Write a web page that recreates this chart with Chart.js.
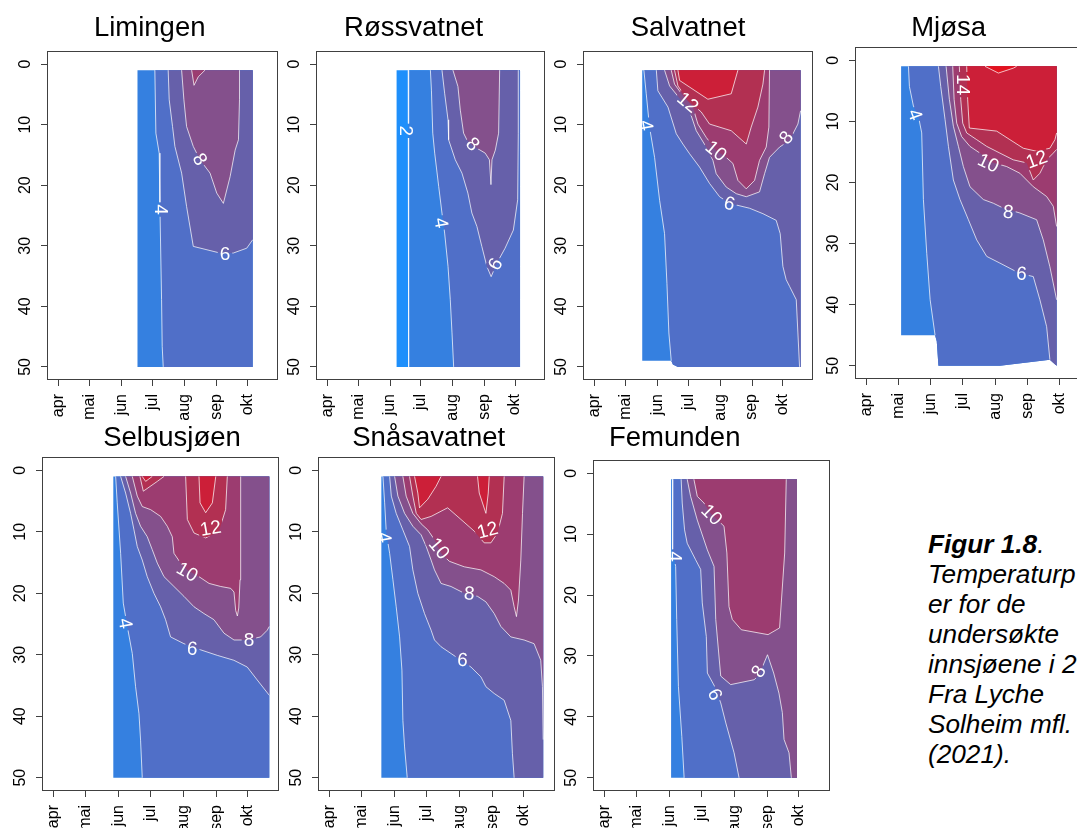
<!DOCTYPE html>
<html>
<head>
<meta charset="utf-8">
<script src="https://cdn.jsdelivr.net/npm/chart.js@4.4.1/dist/chart.umd.min.js"></script>
<style>
  html, body { margin: 0; padding: 0; background: #fff; width: 1077px; height: 828px; overflow: hidden; position: relative; font-family: "Liberation Sans", Arial, sans-serif; }
  canvas { position: absolute; }
  #caption { position: absolute; left: 928px; top: 529px; font-size: 26.2px; line-height: 30px; font-style: italic; white-space: nowrap; color: #000; }
</style>
</head>
<body>
<div id="caption"><b>Figur 1.8</b>.<br>Temperaturp<br>er for de<br>undersøkte<br>innsjøene i 2<br>Fra Lyche<br>Solheim mfl.<br>(2021).</div>
<script>
// x = day of year, y = depth (m)
const monthDays = [91, 121, 152, 182, 213, 244, 274];
const monthNames = ['apr', 'mai', 'jun', 'jul', 'aug', 'sep', 'okt'];
const depthTicks = [0, 10, 20, 30, 40, 50];
// one colour per 2-degree band: <2, 2-4, 4-6, ..., 16-18
const bandColors = ['#1e8ffb', '#3580e0', '#506fc8', '#6660aa', '#84508c', '#9c3c70', '#b23052', '#cc1f38', '#e3121f'];

// Limingen
const limingenArea = [[167.3,1],[278.8,1],[278.8,50],[167.3,50]];
const limingenOver4 = [[184.1,1],[185.1,11.4],[188.3,14.7],[189,23.5],[190.6,38.9],[191.2,46.6],[192.2,50],[278.8,50],[278.8,1]];
const limingenOver6 = [[197,1],[198,5.9],[201.2,10.3],[203.5,13.6],[210,18],[214.8,23.5],[221.3,30.1],[247.2,31.2],[260,31.2],[273,30.4],[278.8,29],[278.8,1]];
const limingenOver8 = [[210,1],[212.2,5.9],[214.8,10.3],[221.3,13.6],[227.8,15.8],[237.5,18],[244,21.3],[250.4,23],[256.9,18.6],[261.8,14.2],[265,12.5],[266,5.9],[266,1]];
const limingenOver10 = [[219.7,1],[222,3.5],[226.1,2.1],[232.6,1]];
const limingenLabels = [[190.6,24,'4',90],[227.8,15.7,'8',60],[252,31.3,'6',0]];

// Røssvatnet
const rossArea = [[158.4,1],[278.9,1],[278.9,50],[158.4,50]];
const rossOver2 = [[169.7,1],[169.9,20],[170.4,50],[278.9,50],[278.9,1]];
const rossOver4 = [[191.4,1],[192.4,4.3],[193.7,11.4],[195.6,14.7],[199.5,20.2],[202.7,24.6],[205.3,27.9],[208.6,33.4],[210.8,38.9],[212.5,44.4],[214.1,50],[278.9,50],[278.9,1]];
const rossOver6 = [[202.7,1],[205.3,4.8],[208.6,9.2],[209.2,12.5],[215.7,15.8],[222.2,18],[228,21.3],[231.9,24.6],[236.8,26.8],[241.6,30.1],[246.5,33.4],[250.7,35.1],[256.2,32.9],[264.3,30.4],[272.4,27.4],[276.6,22.4],[277.2,11.4],[277.2,1]];
const rossOver8 = [[213.4,1],[218.3,3.7],[220.6,7.6],[223.8,11.4],[227,12.5],[233,13.5],[244.9,14.7],[249,15.8],[250.5,19.9],[251.5,15.8],[254.8,14.2],[258,11.4],[259,1]];
const rossLabels = [[168.1,11,'2',90],[202.1,26.2,'4',80],[232.9,13.2,'8',45],[254.6,33,'6',-60]];

// Salvatnet
const salvArea = [[137.3,1],[291.2,1],[291.2,50],[172,50],[167.1,49.6],[165.5,49],[137.3,49]];
const salvOver4 = [[138.9,1],[141.2,4.9],[144.4,10.4],[149.3,15.4],[154.2,22.5],[159,28],[161.3,36.2],[163.2,44.4],[165.5,49],[167.1,49.6],[172,50],[291.2,50],[291.2,1]];
const salvOver6 = [[151,1],[152.5,4.4],[162.3,7.1],[170.4,11.5],[176.8,13.2],[183.3,14.8],[193,17],[202.7,19.7],[212.5,21.9],[222.2,23],[241.6,23.8],[254.6,24.7],[267.5,25.8],[271.4,28],[274,33.4],[277.2,35.6],[280.5,36.7],[287,38.9],[288.6,44.4],[290.2,50],[291.2,50],[291.2,1]];
const salvOver8 = [[159,1],[163.9,3.6],[175.2,6],[183.3,7.7],[189.8,11],[199.5,13.7],[206,15.9],[209.2,18.1],[218.9,20.3],[228.7,21.4],[238.4,21.9],[251.3,21.1],[256.2,18.1],[261,15.4],[270.8,13.7],[280.5,12.6],[288.6,9.9],[291.2,7.7],[291.2,1]];
const salvOver10 = [[165.5,1],[168.7,3.3],[176.8,5.2],[186.5,7.1],[191.4,9.9],[199.5,12.1],[209.2,14.3],[218.9,15.4],[225.4,16.4],[230.3,19.2],[238.4,20.6],[246.5,19.2],[251.3,15.9],[257.8,13.7],[260.4,10.4],[261,1]];
const salvOver12 = [[168.7,1],[172,3.6],[181.7,6],[194.6,7.9],[202.7,9.9],[223.8,11],[238.4,13.2],[243.2,10.4],[249.7,7.1],[254.6,3.3],[256.2,1]];
const salvOver14 = [[172,1],[173.6,2.7],[201.1,5.8],[223.8,4.9],[230.3,1]];
const salvLabels = [[141.2,10.1,'4',80],[181.7,6.3,'12',40],[209.2,14.3,'10',40],[277.2,12.1,'8',-50],[222.2,23,'6',15]];

// Mjøsa
const mjosaArea = [[123.6,1],[271.5,1],[271.5,50],[265.1,49],[217.6,50],[159.1,50],[157.5,46],[155.9,45],[123.6,45]];
const mjosaOver4 = [[130.6,1],[131.5,4.3],[135.3,7.5],[140.1,9.2],[143.2,11.9],[144.8,22.8],[148,31.6],[151.2,39.2],[155.9,45],[157.5,46],[159.1,50],[217.6,50],[265.1,49],[271.5,50],[271.5,1]];
const mjosaOver6 = [[159.1,1],[161.3,4.3],[165.4,9.7],[168.6,14.1],[173.3,19.6],[179.6,22.8],[187.6,26.1],[195.5,29.4],[205,32.1],[217.6,33.2],[236.6,34.9],[249.3,35.4],[255.6,39.2],[262,43.6],[265.1,49],[271.5,50],[271.5,1]];
const mjosaOver8 = [[166.4,1],[169.5,6.4],[173.3,10.8],[178.1,14.1],[182.8,17.4],[189.1,20.7],[201.8,22.8],[211.3,23.4],[220.8,24.2],[236.6,25],[252.5,26.1],[258.8,29.4],[265.1,33.8],[271.5,39.2],[271.5,1]];
const mjosaOver10 = [[172.7,1],[174,6.4],[176.5,10.3],[181.2,12.5],[189.1,14.1],[198.6,15.2],[208.1,16.6],[224,17.4],[236.6,18.5],[249.3,20.7],[262,22.3],[268.3,23.9],[271.5,27.2],[271.5,1]];
const mjosaOver12 = [[179,1],[180.3,6.4],[182.2,10.3],[186,11.9],[195.5,13],[205,14.1],[217.6,15.2],[230.3,16.3],[243,16.8],[249.3,19.6],[255.6,18.5],[262,16.3],[268.3,15.2],[271.5,14.6],[271.5,1]];
const mjosaOver14 = [[186,1],[186.9,6.4],[188.5,11.1],[214.5,11.6],[227.1,13],[239.8,14.4],[252.5,14.9],[265.1,14.4],[269.9,13],[271.5,11.9],[271.5,1]];
const mjosaOver16 = [[203.4,1],[216.1,2.1],[230.3,1.3],[233.5,1]];
const mjosaLabels = [[136.9,8.9,'4',70],[182.8,4,'14',90],[206.6,16.8,'10',25],[252.5,16.2,'12',-20],[225.6,24.8,'8',5],[238.2,34.9,'6',5]];

// Selbusjøen
const selbuArea = [[147,1],[294.1,1],[294.1,50],[147,50]];
const selbuOver4 = [[149.2,1],[150.7,5.3],[153.9,13.5],[156.4,21.6],[160.2,25.4],[164.9,29.8],[168,35.2],[171.2,39.6],[172.7,43.9],[174.3,50],[294.1,50],[294.1,1]];
const selbuOver6 = [[153.9,1],[158.6,3.7],[163.3,7],[166.5,9.7],[169.6,12.4],[174.3,14.6],[179,17.3],[185.3,20],[191.6,22.2],[196.3,24.3],[201,27.1],[213.6,28.2],[229.3,29.2],[245,30.1],[260.7,30.9],[273.3,32],[282.7,34.1],[294.1,36.6],[294.1,1]];
const selbuOver8 = [[158.6,1],[163.3,3.7],[168,7],[172.7,9.1],[179,10.8],[183.7,12.9],[188.5,15.1],[194.8,17.3],[204.2,18.9],[213.6,20.5],[223.1,22.2],[232.5,23.3],[241.9,24.3],[251.4,26.5],[260.8,27.6],[273.3,27.6],[285.9,27.1],[292.2,26],[294.1,25.4],[294.1,1]];
const selbuOver10 = [[164.9,1],[169.6,4.2],[174.3,5.9],[182.2,6.4],[191.6,7.5],[197.9,9.1],[202.6,10.8],[204.2,13.5],[210.5,15.1],[216.8,16.2],[227.8,17.3],[237.3,18.4],[248.3,18.9],[257.7,19.2],[260.8,19.8],[262.4,22.8],[264,23.7],[265.3,22.4],[266.5,17.8],[267.1,8],[267.1,1]];
const selbuOver12a = [[172.1,1],[175.3,3.4],[188.5,1.8],[194.8,1]];
const selbuOver12b = [[215.2,1],[216.8,8],[223.1,10.2],[234.1,11],[246.6,9.9],[252.9,6.4],[254.5,1]];
const selbuOver14a = [[174.3,1],[177.5,1.8],[183.7,1]];
const selbuOver14b = [[227.8,1],[228.8,5.3],[234.1,6.9],[240.4,5.3],[243.6,1]];
const selbuLabels = [[158.6,24.9,'4',80],[238.8,9.4,'12',-10],[216.8,16.5,'10',30],[221.5,29,'6',5],[274.9,27.6,'8',0]];

// Snåsavatnet
const snasaArea = [[139.5,1],[292.1,1],[292.1,50],[139.5,50]];
const snasaOver4 = [[141,1],[142.6,5.3],[144.2,10.2],[147.3,13.5],[150.4,17.8],[153.5,22.2],[156.7,27.1],[158.9,32.5],[159.8,40.7],[161.4,45],[163.9,50],[292.1,50],[292.1,1]];
const snasaOver6 = [[147.3,1],[148.9,4.2],[153.5,7],[159.8,9.7],[166.1,12.4],[169.2,16.2],[173.9,20],[180.2,23.3],[186.4,26],[189.6,27.6],[195.8,28.7],[205.2,29.8],[214.6,30.9],[224,32],[233.4,33.6],[238.1,35.2],[245.9,36.3],[255.3,37.4],[261.6,40.7],[263.1,46.1],[264.7,50],[292.1,50],[292.1,1]];
const snasaOver8 = [[152,1],[155.1,4.2],[161.4,7],[169.2,9.1],[177,10.5],[181.8,12.4],[186.4,14.6],[189.6,16.2],[195.8,18.4],[205.2,18.9],[217.7,20],[230.2,20.5],[238.1,21.4],[245.9,23.3],[252.2,25.4],[261.6,27.1],[274.1,27.6],[283.5,28.2],[289.8,30.9],[291.4,35.2],[292.1,43.8],[292.1,1]];
const snasaOver10 = [[159.8,1],[162.9,4.2],[169.2,7],[177,8.7],[183.3,9.7],[189.6,11.3],[195.8,13.5],[203.6,14.8],[217.7,15.7],[233.4,16.2],[245.9,17.3],[255.3,18.4],[261.6,19.5],[264.7,22.2],[266.9,23.8],[268.8,21.1],[271,14.6],[272.6,7],[274.1,1]];
const snasaOver12 = [[166.1,1],[169.2,4.2],[172.4,7],[177,8],[186.4,7.5],[202,6.1],[214.6,8],[227.1,9.9],[236.5,11.8],[242.8,11.8],[249,10.2],[253.7,7],[255.3,1]];
const snasaOver14a = [[170.8,1],[173.9,3.7],[175.5,6.1],[183.3,4.7],[191.1,2.6],[195.8,1]];
const snasaOver14b = [[230.2,1],[231.8,3.7],[238.1,7],[240.3,3.7],[241.2,1]];
const snasaLabels = [[142.6,10.9,'4',80],[239.6,9.7,'12',-15],[194.2,12.7,'10',50],[222.4,20,'8',5],[216.1,30.8,'6',5]];

// Femunden
const femArea = [[153.4,1],[272.1,1],[272.1,50],[153.4,50]];
const femOver4 = [[155,1],[154.7,7.7],[155,12.6],[157.7,15.3],[158.7,24],[160.3,35],[163.5,43.2],[165.7,50],[272.1,50],[272.1,1]];
const femOver6 = [[162.9,1],[163.9,4.9],[166.1,9.3],[168.6,11.5],[176.5,14.2],[181.3,15.8],[182.8,21.3],[186.6,26.8],[187.6,32.8],[194.5,35],[200.2,37.7],[205,41],[212.8,45.9],[217.5,50],[272.1,50],[272.1,1]];
const femOver8 = [[168.6,1],[171.8,3.8],[178.1,7.7],[187.6,12.6],[193.9,15.3],[195.5,24],[200.2,33.3],[209.6,34.7],[231.7,33.9],[236.4,33.1],[244.3,29.8],[250.1,32.8],[255.1,36.1],[258.3,39.3],[259.9,43.7],[264.6,45.9],[266.8,50],[272.1,50],[272.1,1]];
const femOver10 = [[174.9,1],[178.1,3.8],[184.4,4.9],[190.7,6.6],[203.3,8.7],[206,13.1],[208,21.9],[211.1,24],[219.6,25.7],[244.8,26.5],[255.7,25.4],[257.3,21.3],[260.5,13.1],[262,1]];
const femLabels = [[157.2,13.7,'4',90],[191.8,6.8,'10',45],[235.9,32.5,'8',-60],[194.9,36.3,'6',65]];

const panels = [
  { title: 'Limingen', box: [48.3, 51.7, 276.7, 379.3], tdx: 101.7, tdy: 15.7, area: limingenArea, base: 1,
    levels: [[4, limingenOver4], [6, limingenOver6], [8, limingenOver8], [10, limingenOver10]], labels: limingenLabels },
  { title: 'Røssvatnet', box: [316.7, 51.7, 544.3, 379.3], tdx: 96.6, tdy: 15.7, area: rossArea, base: 0,
    levels: [[2, rossOver2], [4, rossOver4], [6, rossOver6], [8, rossOver8]], labels: rossLabels },
  { title: 'Salvatnet', box: [584.3, 51.7, 812.3, 379.3], tdx: 104, tdy: 15.7, area: salvArea, base: 1,
    levels: [[4, salvOver4], [6, salvOver6], [8, salvOver8], [10, salvOver10], [12, salvOver12], [14, salvOver14]], labels: salvLabels },
  { title: 'Mjøsa', box: [855.7, 48.3, 1089.1, 378.3], tdx: 92.6, tdy: 11.6, area: mjosaArea, base: 1,
    levels: [[4, mjosaOver4], [6, mjosaOver6], [8, mjosaOver8], [10, mjosaOver10], [12, mjosaOver12], [14, mjosaOver14], [16, mjosaOver16]], labels: mjosaLabels },
  { title: 'Selbusjøen', box: [42.7, 458.3, 278.3, 790], tdx: 129, tdy: 11.6, area: selbuArea, base: 1,
    levels: [[4, selbuOver4], [6, selbuOver6], [8, selbuOver8], [10, selbuOver10], [12, selbuOver12a], [12, selbuOver12b], [14, selbuOver14a], [14, selbuOver14b]], labels: selbuLabels },
  { title: 'Snåsavatnet', box: [319.3, 458.3, 554.3, 790], tdx: 109.7, tdy: 12.3, area: snasaArea, base: 1,
    levels: [[4, snasaOver4], [6, snasaOver6], [8, snasaOver8], [10, snasaOver10], [12, snasaOver12], [14, snasaOver14a], [14, snasaOver14b]], labels: snasaLabels },
  { title: 'Femunden', box: [594.3, 460.7, 828.7, 790], tdx: 80.7, tdy: 14.7, area: femArea, base: 1,
    levels: [[4, femOver4], [6, femOver6], [8, femOver8], [10, femOver10]], labels: femLabels }
];

const lineColor = 'rgba(255,255,255,0.72)';
const clear = 'rgba(0,0,0,0)';
const frameColor = '#404040';
const labelFont = '19px "Liberation Sans", Arial, sans-serif';
const tickFont = '16px "Liberation Sans", Arial, sans-serif';

function nearSeg(a, p, q) {
  const dx = q[0] - p[0], dy = q[1] - p[1];
  const len2 = dx * dx + dy * dy;
  const t = len2 ? ((a[0] - p[0]) * dx + (a[1] - p[1]) * dy) / len2 : 0;
  if (t < -0.001 || t > 1.001) return false;
  const ex = p[0] + t * dx - a[0], ey = p[1] + t * dy - a[1];
  return ex * ex + ey * ey < 0.01;
}
// a segment lying along the data outline gets no white line
function onOutline(a, b, outline) {
  for (let i = 0; i < outline.length; i++) {
    const p = outline[i], q = outline[(i + 1) % outline.length];
    if (nearSeg(a, p, q) && nearSeg(b, p, q)) return true;
  }
  return false;
}

const toXY = poly => poly.map(([x, y]) => ({ x, y }));

function fillSet(poly, color) {
  return { data: toXY(poly), fill: 'shape', backgroundColor: color, borderColor: clear, borderWidth: 0, pointRadius: 0, tension: 0 };
}
function lineSet(poly, outline) {
  return {
    data: toXY(poly), fill: false, borderColor: lineColor, borderWidth: 1, pointRadius: 0, tension: 0, isoLine: true,
    segment: { borderColor: c => onOutline(poly[c.p0DataIndex], poly[c.p1DataIndex], outline) ? clear : lineColor }
  };
}

const panelPlugin = {
  id: 'panel',
  beforeDatasetDraw(chart, args, opts) {
    if (!chart.data.datasets[args.index].isoLine) return;
    const ctx = chart.ctx, a = chart.chartArea;
    ctx.save();
    ctx.font = labelFont;
    ctx.beginPath();
    ctx.rect(a.left, a.top, a.right - a.left, a.bottom - a.top);
    // cut a gap in the contour lines under every label
    for (const [xv, yv, txt, ang] of opts.labels) {
      const cx = chart.scales.x.getPixelForValue(xv), cy = chart.scales.y.getPixelForValue(yv);
      const hw = ctx.measureText(txt).width / 2 + 2, hh = 8;
      const co = Math.cos(ang * Math.PI / 180), si = Math.sin(ang * Math.PI / 180);
      const pts = [[-hw, -hh], [hw, -hh], [hw, hh], [-hw, hh]].map(([u, v]) => [cx + u * co - v * si, cy + u * si + v * co]);
      ctx.moveTo(pts[0][0], pts[0][1]);
      for (let i = 1; i < 4; i++) ctx.lineTo(pts[i][0], pts[i][1]);
      ctx.closePath();
    }
    ctx.clip('evenodd');
  },
  afterDatasetDraw(chart, args) {
    if (chart.data.datasets[args.index].isoLine) chart.ctx.restore();
  },
  afterDraw(chart, args, opts) {
    const ctx = chart.ctx, a = chart.chartArea, xs = chart.scales.x, ys = chart.scales.y;
    ctx.save();
    // contour labels
    ctx.font = labelFont;
    ctx.fillStyle = '#fff';
    ctx.textAlign = 'center';
    ctx.textBaseline = 'middle';
    for (const [xv, yv, txt, ang] of opts.labels) {
      ctx.save();
      ctx.translate(xs.getPixelForValue(xv), ys.getPixelForValue(yv));
      ctx.rotate(ang * Math.PI / 180);
      ctx.fillText(txt, 0, 1);
      ctx.restore();
    }
    // frame
    ctx.strokeStyle = frameColor;
    ctx.lineWidth = 1;
    ctx.strokeRect(a.left - 0.5, a.top - 0.5, a.right - a.left + 1, a.bottom - a.top + 1);
    // tick labels, rotated like R's las=2 / vertical y labels
    ctx.fillStyle = '#000';
    ctx.font = tickFont;
    monthDays.forEach((d, i) => {
      ctx.save();
      ctx.translate(xs.getPixelForValue(d), a.bottom + 15);
      ctx.rotate(-Math.PI / 2);
      ctx.textAlign = 'right';
      ctx.textBaseline = 'middle';
      ctx.fillText(monthNames[i], 0, 0);
      ctx.restore();
    });
    depthTicks.forEach(v => {
      ctx.save();
      ctx.translate(a.left - 22, ys.getPixelForValue(v));
      ctx.rotate(-Math.PI / 2);
      ctx.textAlign = 'center';
      ctx.textBaseline = 'middle';
      ctx.fillText(String(v), 0, 0);
      ctx.restore();
    });
    // title
    ctx.font = '27.5px "Liberation Sans", Arial, sans-serif';
    ctx.textAlign = 'center';
    ctx.textBaseline = 'alphabetic';
    ctx.fillText(opts.title, a.left + opts.tdx, a.top - opts.tdy);
    ctx.restore();
  }
};

function buildPanel(p) {
  const padL = 60, padT = 50, padR = 10, padB = 50;
  const L = Math.round(p.box[0]), T = Math.round(p.box[1]), R = Math.round(p.box[2]), B = Math.round(p.box[3]);
  const cv = document.createElement('canvas');
  cv.width = R - L + padL + padR;
  cv.height = B - T + padT + padB;
  cv.style.left = (L - padL) + 'px';
  cv.style.top = (T - padT) + 'px';
  document.body.appendChild(cv);

  const fills = [fillSet(p.area, bandColors[p.base])];
  const lines = [];
  for (const [lvl, poly] of p.levels) {
    fills.push(fillSet(poly, bandColors[lvl / 2]));
    lines.push(lineSet(poly, p.area));
  }
  const datasets = fills.concat(lines);
  datasets.forEach((d, i) => { d.order = datasets.length - i; });

  const grid = { drawOnChartArea: false, drawTicks: true, tickLength: 7, color: frameColor, lineWidth: 1 };
  new Chart(cv, {
    type: 'line',
    data: { datasets },
    options: {
      responsive: false,
      animation: false,
      devicePixelRatio: 1,
      layout: { padding: { left: 0, top: padT, right: padR, bottom: 0 } },
      plugins: {
        legend: { display: false },
        tooltip: { enabled: false },
        panel: { title: p.title, tdx: p.tdx, tdy: p.tdy, labels: p.labels }
      },
      scales: {
        x: {
          type: 'linear', min: 80.7, max: 302.3,
          afterBuildTicks: s => { s.ticks = monthDays.map(v => ({ value: v })); },
          afterFit: s => { s.height = padB; },
          ticks: { display: false },
          grid, border: { display: false }
        },
        y: {
          type: 'linear', reverse: true, min: -2, max: 52,
          afterBuildTicks: s => { s.ticks = depthTicks.map(v => ({ value: v })); },
          afterFit: s => { s.width = padL; },
          ticks: { display: false },
          grid, border: { display: false }
        }
      }
    },
    plugins: [panelPlugin]
  });
}

panels.forEach(buildPanel);
</script>
</body>
</html>
